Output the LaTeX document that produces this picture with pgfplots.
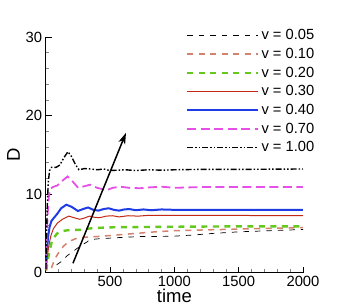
\documentclass[border=0pt]{standalone}
\usepackage{fontspec}
\setmainfont{Liberation Sans}
\usepackage{pgfplots}
\pgfplotsset{compat=1.18}
\usetikzlibrary{arrows.meta}
\definecolor{cSalmon}{RGB}{210,130,110}
\definecolor{cGreen}{RGB}{100,200,30}
\definecolor{cRed}{RGB}{195,40,20}
\definecolor{cBlue}{RGB}{30,60,230}
\definecolor{cMag}{RGB}{230,80,230}
\begin{document}
\begin{tikzpicture}
\begin{axis}[
  scale only axis, width=257.3pt, height=235.7pt,
  xmin=0, xmax=2000, ymin=0, ymax=30,
  axis x line*=bottom, axis y line*=left,
  axis line style={line width=0.8pt},
  xtick={0,500,1000,1500,2000}, xticklabels={,500,1000,1500,2000},
  ytick={0,10,20,30},
  minor x tick num=4, minor y tick num=4,
  tick align=inside,
  major tick length=6pt, minor tick length=3.5pt,
  every major tick/.style={line width=0.8pt,black},
  every minor tick/.style={line width=0.5pt,gray},
  /pgf/number format/assume math mode=true,
  /pgf/number format/set thousands separator={},
  tick label style={font=\fontsize{14.8}{17}\selectfont},
  xlabel={time}, ylabel={D},
  label style={font=\fontsize{18.5}{21}\selectfont},
  xlabel style={yshift=4pt},
  ylabel style={yshift=-1pt},
  clip=false,
  legend style={draw=none, at={(rel axis cs:0.545,1.041)}, anchor=north west,
    font=\fontsize{14.7}{17}\selectfont, row sep=2.9pt, inner sep=0pt},
  legend cell align=left,
  legend image code/.code={\draw[#1] (0pt,0pt) -- (67pt,0pt); \path (0pt,0pt) -- (71pt,0pt);},
]
\addplot[color=black, line width=0.7pt, dash pattern=on 5.5pt off 6pt] coordinates {
(85,1.0) (120,1.4) (170,2.2) (220,2.8) (270,3.4) (320,3.9) (344,4.2) (400,4.3) (500,4.4) (600,4.5) (733,4.6) (850,4.6) (1000,4.65) (1150,4.8) (1300,5.0) (1500,5.2) (1750,5.35) (2000,5.5)};
\addlegendentry{v = 0.05}
\addplot[color=cSalmon, line width=1.5pt, dash pattern=on 6pt off 5.5pt] coordinates {
(45,0.6) (60,1.3) (80,2.0) (110,2.8) (140,3.4) (168,3.8) (200,4.1) (243,4.4) (300,4.5) (400,4.6) (555,4.8) (700,5.0) (850,5.2) (1000,5.35) (1250,5.45) (1500,5.55) (1750,5.65) (2000,5.75)};
\addlegendentry{v = 0.10}
\addplot[color=cGreen, line width=2.4pt, dash pattern=on 6pt off 5.5pt] coordinates {
(5,0.3) (15,1.5) (30,2.8) (45,3.8) (60,4.4) (90,5.0) (130,5.3) (170,5.4) (220,5.45) (270,5.45) (320,5.6) (400,5.7) (555,5.8) (700,5.8) (1000,5.85) (1500,5.9) (2000,5.9)};
\addlegendentry{v = 0.20}
\addplot[color=cRed, line width=1.0pt] coordinates {
(3,0.3) (12,2.0) (25,3.5) (40,4.7) (60,5.6) (90,6.3) (130,6.8) (180,7.2) (220,7.0) (265,6.8) (300,6.95) (340,7.2) (380,7.05) (420,7.0) (470,7.2) (520,7.25) (570,7.1) (640,7.25) (720,7.2) (800,7.3) (1000,7.3) (1300,7.3) (2000,7.25)};
\addlegendentry{v = 0.30}
\addplot[color=cBlue, line width=2.0pt] coordinates {
(2,0.5) (8,2.5) (18,4.5) (30,5.8) (45,6.6) (65,7.0) (90,7.5) (120,8.2) (160,8.65) (200,8.4) (250,7.85) (290,8.1) (330,8.3) (370,8.0) (410,7.9) (450,8.1) (490,8.2) (530,8.0) (570,7.9) (610,8.05) (650,8.1) (700,7.95) (760,8.05) (820,7.95) (900,8.05) (1000,8.0) (1200,8.0) (1500,8.0) (2000,8.0)};
\addlegendentry{v = 0.40}
\addplot[color=cMag, line width=1.8pt, dash pattern=on 9pt off 4.5pt] coordinates {
(2,0.5) (8,4) (15,7.5) (25,9.8) (38,10.7) (55,10.9) (90,11.1) (130,11.7) (170,12.25) (210,11.6) (252,10.8) (300,11.0) (345,11.2) (400,10.8) (474,10.5) (520,10.8) (578,10.95) (650,10.8) (733,10.75) (800,10.85) (900,10.95) (1000,10.8) (1200,10.9) (1500,10.9) (2000,10.9)};
\addlegendentry{v = 0.70}
\addplot[color=black, line width=1.4pt, dash pattern=on 6pt off 2pt on 1.5pt off 2pt on 1.5pt off 2pt] coordinates {
(2,0.5) (6,4) (12,8.5) (20,11.5) (30,13.0) (45,13.4) (80,13.4) (110,13.7) (140,14.6) (173,15.4) (200,14.8) (230,13.8) (259,13.1) (300,13.25) (350,13.2) (400,13.1) (450,13.2) (500,13.0) (560,13.05) (620,13.1) (700,13.0) (800,13.1) (900,13.05) (1000,13.1) (1200,13.15) (1500,13.15) (2000,13.2)};
\addlegendentry{v = 1.00}
\draw[line width=1.5pt, -{Stealth[length=11pt,width=7pt,inset=3pt]}] (axis cs:212,1.2) -- (axis cs:624,17.8);
\coordinate (sw) at (rel axis cs:0,0);
\coordinate (ne) at (rel axis cs:1,1);
\end{axis}
\pgfresetboundingbox
\useasboundingbox ([shift={(-45.7pt,-34.3pt)}]sw) rectangle ([shift={(43pt,37pt)}]ne);
\end{tikzpicture}
\end{document}
